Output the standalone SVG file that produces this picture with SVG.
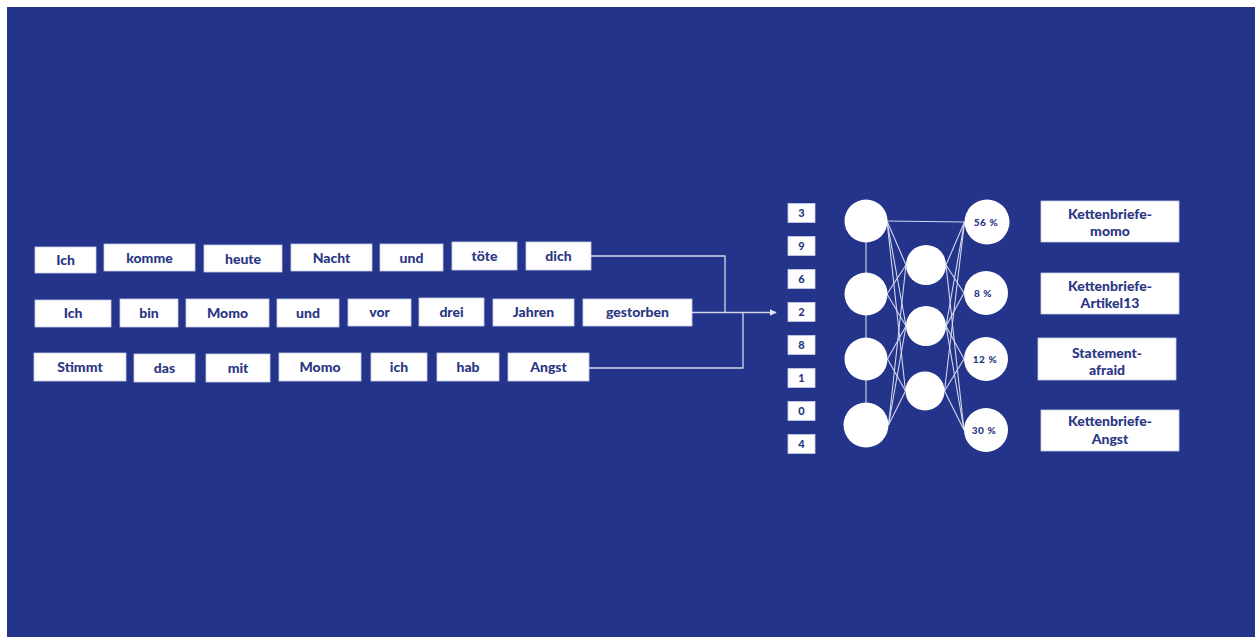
<svg xmlns="http://www.w3.org/2000/svg" width="1255" height="637" viewBox="0 0 1255 637">
  <style>
    .box { fill: #ffffff; stroke: #c9cee8; stroke-width: 0.8; }
    .word { font-family: Lato, "Liberation Sans", sans-serif; font-weight: 900; font-size: 14px; fill: #2b3784; text-anchor: middle; }
    .num { font-family: Lato, "Liberation Sans", sans-serif; font-weight: 900; font-size: 11px; fill: #2b3784; text-anchor: middle; }
    .pct { font-family: Lato, "Liberation Sans", sans-serif; font-weight: 900; font-size: 10px; fill: #2b3784; text-anchor: middle; letter-spacing: 0.6px; }
    .conn { fill: none; stroke: #d3d7ec; stroke-width: 1.3; }
    .net { stroke: #d3d7ec; stroke-width: 1.1; }
    .node { fill: #ffffff; }
  </style>
  <defs>
    <marker id="arrow" viewBox="0 0 10 10" refX="9" refY="5" markerWidth="7" markerHeight="7" markerUnits="userSpaceOnUse" orient="auto">
      <path d="M0,0 L10,5 L0,10 z" fill="#e4e7f4"/>
    </marker>
  </defs>

  <!-- background panel -->
  <rect x="0" y="0" width="1255" height="637" fill="#ffffff"/>
  <rect x="7" y="7" width="1248" height="630" fill="#23348a"/>

  <!-- sentence 1 -->
  <g id="s1-ich"><rect class="box" x="35" y="247" width="61" height="26"/><text class="word" x="65.5" y="265">Ich</text></g>
  <g id="s1-komme"><rect class="box" x="104" y="244" width="91" height="27"/><text class="word" x="149.5" y="263">komme</text></g>
  <g id="s1-heute"><rect class="box" x="204" y="245" width="78" height="27"/><text class="word" x="243" y="264">heute</text></g>
  <g id="s1-nacht"><rect class="box" x="291" y="244" width="81" height="27"/><text class="word" x="331.5" y="263">Nacht</text></g>
  <g id="s1-und"><rect class="box" x="380" y="244" width="63" height="27"/><text class="word" x="411.5" y="263">und</text></g>
  <g id="s1-toete"><rect class="box" x="452" y="242" width="65" height="28"/><text class="word" x="484.5" y="261">töte</text></g>
  <g id="s1-dich"><rect class="box" x="526" y="242" width="65" height="28"/><text class="word" x="558.5" y="261">dich</text></g>

  <!-- sentence 2 -->
  <g id="s2-ich"><rect class="box" x="35" y="300" width="76" height="27"/><text class="word" x="73" y="318">Ich</text></g>
  <g id="s2-bin"><rect class="box" x="120" y="299" width="58" height="28"/><text class="word" x="149" y="318">bin</text></g>
  <g id="s2-momo"><rect class="box" x="186" y="299" width="83" height="28"/><text class="word" x="227.5" y="318">Momo</text></g>
  <g id="s2-und"><rect class="box" x="277" y="299" width="62" height="28"/><text class="word" x="308" y="318">und</text></g>
  <g id="s2-vor"><rect class="box" x="348" y="299" width="63" height="27"/><text class="word" x="379.5" y="317">vor</text></g>
  <g id="s2-drei"><rect class="box" x="419" y="298" width="65" height="28"/><text class="word" x="451.5" y="317">drei</text></g>
  <g id="s2-jahren"><rect class="box" x="493" y="299" width="81" height="27"/><text class="word" x="533.5" y="317">Jahren</text></g>
  <g id="s2-gestorben"><rect class="box" x="583" y="299" width="109" height="27"/><text class="word" x="637.5" y="317">gestorben</text></g>

  <!-- sentence 3 -->
  <g id="s3-stimmt"><rect class="box" x="34" y="353" width="92" height="28"/><text class="word" x="80" y="372">Stimmt</text></g>
  <g id="s3-das"><rect class="box" x="134" y="354" width="61" height="28"/><text class="word" x="164.5" y="373">das</text></g>
  <g id="s3-mit"><rect class="box" x="206" y="354" width="64" height="28"/><text class="word" x="238" y="373">mit</text></g>
  <g id="s3-momo"><rect class="box" x="279" y="353" width="82" height="28"/><text class="word" x="320" y="372">Momo</text></g>
  <g id="s3-ich"><rect class="box" x="371" y="353" width="56" height="28"/><text class="word" x="399" y="372">ich</text></g>
  <g id="s3-hab"><rect class="box" x="437" y="353" width="62" height="28"/><text class="word" x="468" y="372">hab</text></g>
  <g id="s3-angst"><rect class="box" x="508" y="353" width="81" height="28"/><text class="word" x="548.5" y="372">Angst</text></g>

  <!-- connectors merging the sentences into the encoder -->
  <g id="connectors">
    <path class="conn" d="M591,256 H725 V312.5"/>
    <path class="conn" d="M589,368 H743 V312.5"/>
    <path class="conn" d="M692,312.5 H776" marker-end="url(#arrow)"/>
  </g>

  <!-- encoded vector -->
  <g id="vector">
    <g id="v0"><rect class="box" x="788" y="203.5" width="27" height="19"/><text class="num" x="801.5" y="217">3</text></g>
    <g id="v1"><rect class="box" x="788" y="236.5" width="27" height="19"/><text class="num" x="801.5" y="250">9</text></g>
    <g id="v2"><rect class="box" x="788" y="269.5" width="27" height="19"/><text class="num" x="801.5" y="283">6</text></g>
    <g id="v3"><rect class="box" x="788" y="302.5" width="27" height="19"/><text class="num" x="801.5" y="316">2</text></g>
    <g id="v4"><rect class="box" x="788" y="335.5" width="27" height="19"/><text class="num" x="801.5" y="349">8</text></g>
    <g id="v5"><rect class="box" x="788" y="368.5" width="27" height="19"/><text class="num" x="801.5" y="382">1</text></g>
    <g id="v6"><rect class="box" x="788" y="401.5" width="27" height="19"/><text class="num" x="801.5" y="415">0</text></g>
    <g id="v7"><rect class="box" x="788" y="434.5" width="27" height="19"/><text class="num" x="801.5" y="448">4</text></g>
  </g>

  <!-- network edges: each edge leaves a node from its right-hand point and enters the next at its left-hand point -->
  <g id="network-edges" class="net">
    <line x1="866" y1="221" x2="866" y2="425"/>
    <line x1="887" y1="221" x2="964.5" y2="222"/>
    <line x1="887" y1="221" x2="906" y2="265"/>
    <line x1="887" y1="221" x2="906" y2="326"/>
    <line x1="887" y1="221" x2="905.5" y2="391"/>
    <line x1="887" y1="294" x2="906" y2="265"/>
    <line x1="887" y1="294" x2="906" y2="326"/>
    <line x1="887.5" y1="359" x2="906" y2="326"/>
    <line x1="887.5" y1="359" x2="905.5" y2="391"/>
    <line x1="888.5" y1="425" x2="906" y2="265"/>
    <line x1="888.5" y1="425" x2="906" y2="326"/>
    <line x1="888.5" y1="425" x2="905.5" y2="391"/>
    <line x1="946" y1="265" x2="964.5" y2="222"/>
    <line x1="946" y1="265" x2="964" y2="293"/>
    <line x1="946" y1="265" x2="964" y2="430"/>
    <line x1="946" y1="326" x2="964.5" y2="222"/>
    <line x1="946" y1="326" x2="964" y2="293"/>
    <line x1="946" y1="326" x2="964" y2="359"/>
    <line x1="946" y1="326" x2="964" y2="430"/>
    <line x1="944.5" y1="391" x2="964.5" y2="222"/>
    <line x1="944.5" y1="391" x2="964" y2="359"/>
    <line x1="944.5" y1="391" x2="964" y2="430"/>
  </g>

  <!-- input layer -->
  <g id="in1"><circle class="node" cx="866" cy="221" r="21.5"/></g>
  <g id="in2"><circle class="node" cx="866" cy="294" r="21.5"/></g>
  <g id="in3"><circle class="node" cx="866" cy="359" r="21.5"/></g>
  <g id="in4"><circle class="node" cx="866" cy="425" r="22.5"/></g>

  <!-- hidden layer -->
  <g id="hid1"><circle class="node" cx="926" cy="265" r="20"/></g>
  <g id="hid2"><circle class="node" cx="926" cy="326" r="20"/></g>
  <g id="hid3"><circle class="node" cx="925" cy="391" r="19.5"/></g>

  <!-- output layer -->
  <g id="out1"><circle class="node" cx="987" cy="222" r="22.5"/><text class="pct" x="986" y="226">56 %</text></g>
  <g id="out2"><circle class="node" cx="986" cy="293" r="22"/><text class="pct" x="983" y="297">8 %</text></g>
  <g id="out3"><circle class="node" cx="986" cy="359" r="22"/><text class="pct" x="985" y="363">12 %</text></g>
  <g id="out4"><circle class="node" cx="986" cy="430" r="22"/><text class="pct" x="984" y="434">30 %</text></g>

  <!-- class labels -->
  <g id="label-momo"><rect class="box" x="1041" y="201" width="138" height="41"/><text class="word" x="1110" y="219">Kettenbriefe-</text><text class="word" x="1110" y="236">momo</text></g>
  <g id="label-artikel13"><rect class="box" x="1041" y="273" width="138" height="41"/><text class="word" x="1110" y="291">Kettenbriefe-</text><text class="word" x="1110" y="308">Artikel13</text></g>
  <g id="label-afraid"><rect class="box" x="1038" y="338" width="138" height="42"/><text class="word" x="1107" y="358">Statement-</text><text class="word" x="1107" y="375">afraid</text></g>
  <g id="label-angst"><rect class="box" x="1041" y="410" width="138" height="41"/><text class="word" x="1110" y="426">Kettenbriefe-</text><text class="word" x="1110" y="444">Angst</text></g>
</svg>
